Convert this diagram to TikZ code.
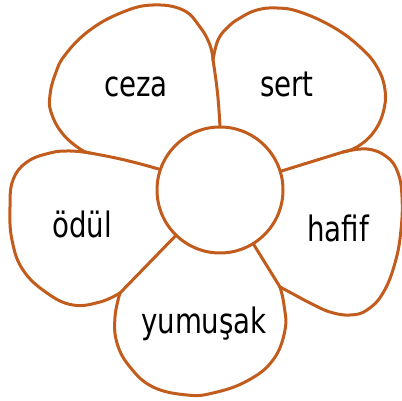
\documentclass[tikz,border=0pt]{standalone}
\usepackage{fontspec}
\usepackage{xcolor}
\usepackage{graphicx}
\usepackage{tikz}
\usetikzlibrary{calc}
\usetikzlibrary{positioning}
\newfontfamily\petalfont{DejaVu Sans}
\definecolor{petalorange}{RGB}{194,92,28}
\tikzstyle{petal} = [draw=petalorange, line width=3pt, line join=round, line cap=round]
\tikzstyle{word} = [draw=none, inner sep=0, anchor=base, font=\petalfont\fontsize{35}{40}\selectfont]
\newcommand{\petalword}[1]{\scalebox{0.79}[1]{#1}}

\begin{document}
\begin{tikzpicture}[x=1pt, y=-1pt]
\useasboundingbox (0,0) rectangle (402,401);
% junctions between petals
\coordinate (J1) at (213,60);
\coordinate (J2) at (343,152);
\coordinate (J3) at (280,287);
\coordinate (J4) at (120,293);
\coordinate (J5) at (90,153);
% outer edges of the petals
\draw [petal] plot [smooth, tension=0.7] coordinates {(90,153) (80,149) (62,133) (51,112) (50,95) (55,75) (65,55) (90,30) (123,12) (153,5) (183,10) (200,27) (210,45) (213,60)};
\draw [petal] plot [smooth, tension=0.7] coordinates {(213,60) (218,40) (228,27) (240,18) (257,10) (277,8) (300,12) (333,27) (360,47) (377,67) (385,90) (383,113) (373,133) (357,147) (343,152)};
\draw [petal] plot [smooth, tension=0.7] coordinates {(343,152) (367,149) (387,157) (398,173) (402,197) (401,230) (395,263) (383,293) (367,310) (350,315) (330,312) (310,303) (295,295) (280,287)};
\draw [petal] plot [smooth, tension=0.7] coordinates {(280,287) (284,305) (285,330) (273,360) (247,381) (213,393) (187,395) (153,387) (130,367) (117,343) (115,317) (120,293)};
\draw [petal] plot [smooth, tension=0.7] coordinates {(120,293) (100,302) (73,305) (47,293) (23,270) (12,240) (10,207) (13,180) (27,162) (50,153) (70,151) (90,153)};
% centre of the flower
\node [circle, petal, fill=white, minimum size=126pt, inner sep=0] (heart) at (220,190) {};
\draw [petal] (J1) to [bend left=3] (heart);
\draw [petal] (J2) -- (heart);
\draw [petal] (J3) -- (heart);
\draw [petal] (J4) -- (heart);
\draw [petal] (J5) to [bend left=3] (heart);
% words
\node [word] (ceza) at (136,97) {\petalword{ceza}};
\node [word] (sert) at (287,97) {\petalword{sert}};
\node [word] (odul) at (82,237) {\petalword{ödül}};
\node [word] (hafif) at (338,242) {\petalword{hafif}};
\node [word] (yumusak) at (204,333) {\petalword{yumuşak}};
\end{tikzpicture}
\end{document}
